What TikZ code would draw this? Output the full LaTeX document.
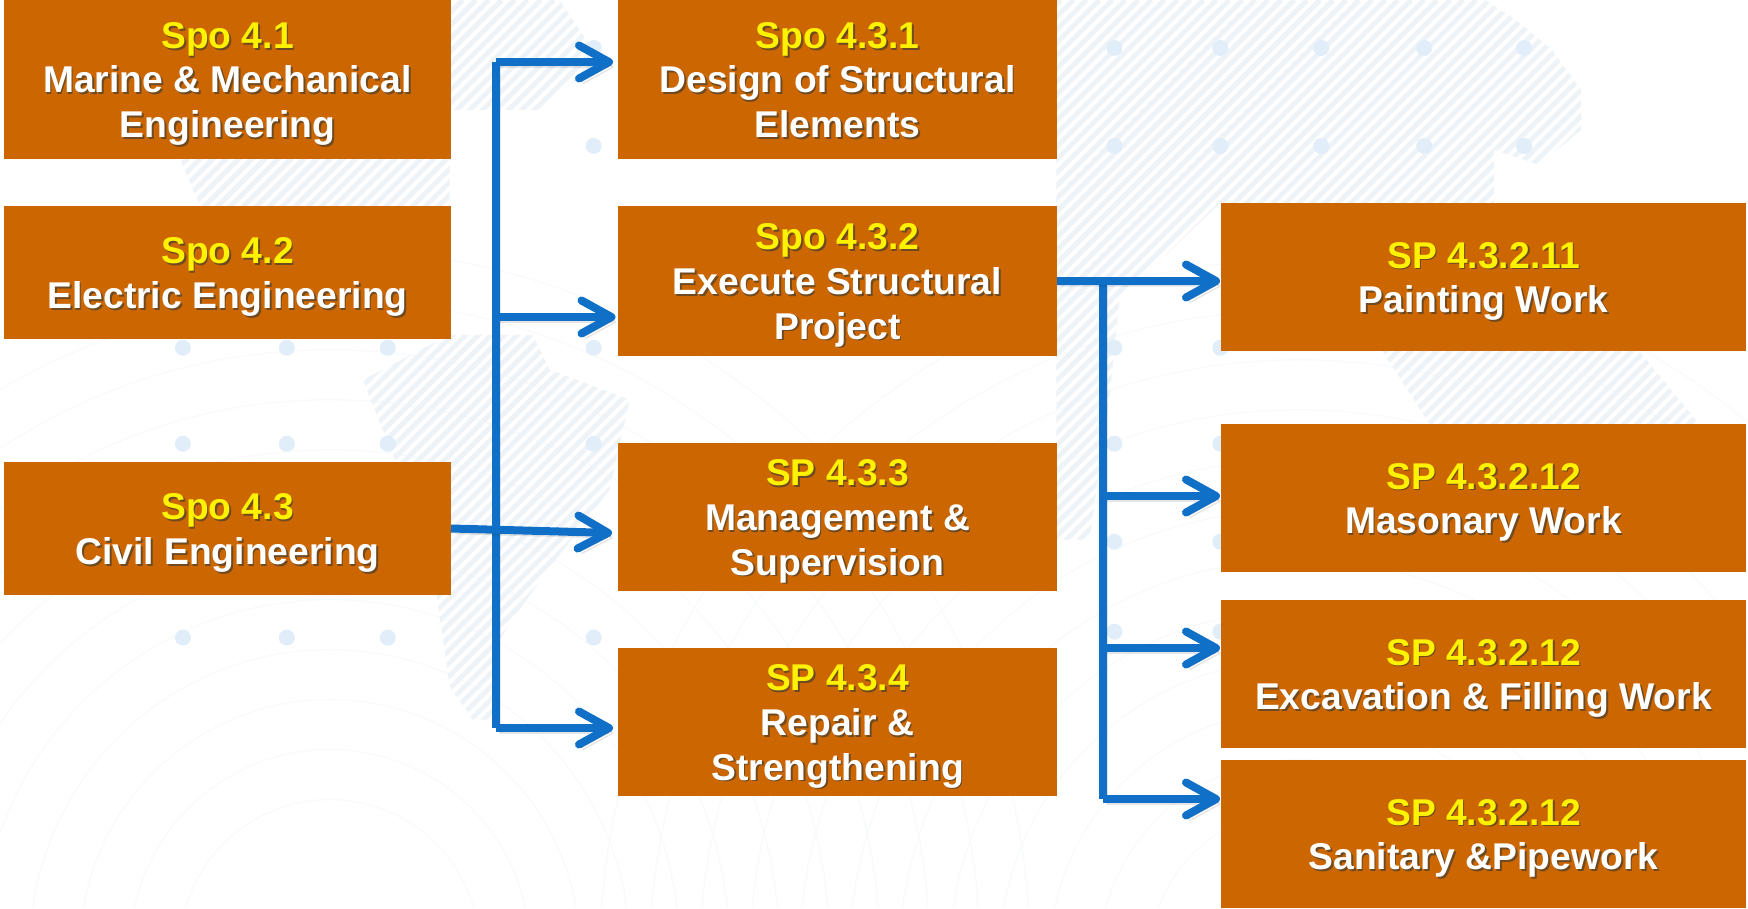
\documentclass[tikz,border=0pt]{standalone}
\usepackage{fontspec}
\setmainfont{Liberation Sans}
\usetikzlibrary{positioning,arrows.meta}

\definecolor{boxorange}{HTML}{CC6600}
\definecolor{flowblue}{HTML}{106FC6}
\definecolor{hatchblue}{HTML}{EEF3F8}
\definecolor{dotblue}{HTML}{E1EDF8}
\definecolor{waveblue}{HTML}{F8FAFC}
\definecolor{textshade}{HTML}{6E4A22}

\newcommand{\headln}[1]{\leavevmode\rule[-3.81pt]{0pt}{15.27pt}\rlap{\kern.5pt\raisebox{-.5pt}{\textcolor{textshade}{#1}}}\textcolor{yellow}{#1}}
\newcommand{\bodyln}[1]{\leavevmode\strut\rlap{\kern.5pt\raisebox{-.5pt}{\textcolor{textshade}{#1}}}\textcolor{white}{#1}}

\tikzset{
  box/.style={fill=boxorange,inner sep=0pt,outer sep=0pt,align=center,
    font=\fontsize{10.6}{12.7}\selectfont\bfseries},
  boxa/.style={box,minimum width=4.47cm},
  boxb/.style={box,minimum width=4.39cm},
  boxc/.style={box,minimum width=5.25cm,minimum height=1.48cm},
  trunk/.style={draw=flowblue,line width=.08cm,
    preaction={draw=black,opacity=.1,transform canvas={shift={(.04,-.05)}}},
    preaction={draw=black,opacity=.2,transform canvas={shift={(.02,-.03)}}}},
  flow/.style={trunk,shorten >=.01cm,-{Straight Barb[length=.3cm,width=.33cm,round]}},
}

\begin{document}
\begin{tikzpicture}
    \useasboundingbox (0,0) rectangle (17.48,9.08);
    % watermark
    \begin{scope}[x=.01cm,y=-.01cm,yshift=9.08cm]
      \clip (0,0) rectangle (1748,908);
      \foreach \r in {150,200,...,700} {
        \draw[waveblue] (330,950) circle (\r);
        \draw[waveblue] (1300,960) circle (\r);
      }
      \begin{scope}
        \clip (180,159) -- (200,206) -- (450,206) -- (450,159) -- cycle
          (451,0) -- (560,0) -- (600,60) -- (540,110) -- (451,110) -- cycle
          (363,380) -- (395,460) -- (437,597) -- (450,687) -- (473,720) -- (500,720)
            -- (500,640) -- (527,600) -- (560,555) -- (610,490) -- (630,400)
            -- (550,370) -- (533,335) -- (450,335) -- cycle
          (1057,0) -- (1486,0) -- (1517,20) -- (1553,50) -- (1582,90) -- (1582,130)
            -- (1540,165) -- (1495,150) -- (1495,203) -- (1221,203) -- (1120,300)
            -- (1110,400) -- (1090,540) -- (1057,540) -- cycle
          (1383,351) -- (1640,351) -- (1700,424) -- (1430,424) -- cycle;
        \foreach \i in {-900,-887,...,1800}
          \draw[hatchblue,line width=.05cm] (\i,908) -- ({\i+908},0);
      \end{scope}
      \foreach \y in {348,444,638}
        \foreach \x in {183,287,388,594}
          \fill[dotblue] (\x,\y) circle (8);
      \foreach \y in {48,146}
        \foreach \x in {594,1115,1221,1322,1425,1525}
          \fill[dotblue] (\x,\y) circle (8);
      \foreach \y in {348,444,542,632}
        \fill[dotblue] (1115,\y) circle (8) (1221,\y) circle (8);
    \end{scope}

    % first column
    \node[boxa,minimum height=1.59cm,anchor=north west] (b41) at (.04,9.08)
      {\headln{Spo 4.1}\\\bodyln{Marine \& Mechanical}\\\bodyln{Engineering}};
    \node[boxa,minimum height=1.33cm,below=.47 of b41] (b42)
      {\headln{Spo 4.2}\\\bodyln{Electric Engineering}};
    \node[boxa,minimum height=1.33cm,below=1.23 of b42] (b43)
      {\headln{Spo 4.3}\\\bodyln{Civil Engineering}};

    % second column
    \node[boxb,minimum height=1.59cm,right=1.67 of b41] (b431)
      {\headln{Spo 4.3.1}\\\bodyln{Design of Structural}\\\bodyln{Elements}};
    \node[boxb,minimum height=1.50cm,below=.47 of b431] (b432)
      {\headln{Spo 4.3.2}\\\bodyln{Execute Structural}\\\bodyln{Project}};
    \node[boxb,minimum height=1.48cm,below=.87 of b432] (b433)
      {\headln{SP 4.3.3}\\\bodyln{Management \&}\\\bodyln{Supervision}};
    \node[boxb,minimum height=1.48cm,below=.57 of b433] (b434)
      {\headln{SP 4.3.4}\\\bodyln{Repair \&}\\\bodyln{Strengthening}};

    % third column
    \node[boxc,right=1.64 of b432,yshift=.04cm] (b4321)
      {\headln{SP 4.3.2.11}\\\bodyln{Painting Work}};
    \node[boxc,below=.73 of b4321] (b4322)
      {\headln{SP 4.3.2.12}\\\bodyln{Masonary Work}};
    \node[boxc,below=.28 of b4322] (b4323)
      {\headln{SP 4.3.2.12}\\\bodyln{Excavation \& Filling Work}};
    \node[boxc,below=.12 of b4323] (b4324)
      {\headln{SP 4.3.2.12}\\\bodyln{Sanitary \&Pipework}};

    \coordinate (topL) at (4.96,8.46);
    \coordinate (midL) at (4.96,5.91);
    \coordinate (endL) at (4.96,1.80);
    \coordinate (tipM) at (6.13,3.75);
    \coordinate (topR) at (11.03,6.27);
    \coordinate (j2R) at (11.03,4.12);
    \coordinate (j3R) at (11.03,2.60);
    \coordinate (endR) at (11.03,1.09);

    \draw[trunk] (topL) -- (endL);
    \draw[flow,shorten >=.05cm] (topL) -- (topL -| b431.west);
    \draw[flow,shorten >=.025cm] (midL) -- (midL -| b432.west);
    \draw[flow] (b43.east) -- (tipM);
    \draw[flow,shorten >=.05cm] (endL) -- (endL -| b434.west);

    \draw[trunk] (topR) -- (endR);
    \draw[flow] (b432.east) -- (topR -| b4321.west);
    \draw[flow] (j2R) -- (j2R -| b4322.west);
    \draw[flow] (j3R) -- (j3R -| b4323.west);
    \draw[flow] (endR) -- (endR -| b4324.west);
\end{tikzpicture}
\end{document}
